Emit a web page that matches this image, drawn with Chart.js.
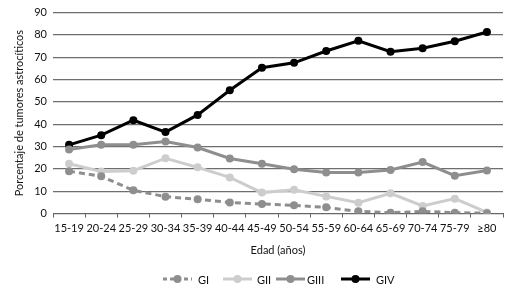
<!DOCTYPE html>
<html>
<head>
<meta charset="utf-8">
<script src="https://cdn.jsdelivr.net/npm/chart.js@4"></script>
<style>
  html, body { margin: 0; padding: 0; background: #fff; }
  #wrap { width: 530px; height: 293px; position: relative; }
</style>
</head>
<body>
<div id="wrap"><canvas id="chart" width="530" height="293"></canvas></div>
<script>
// age groups
var ageLabels = ["15-19", "20-24", "25-29", "30-34", "35-39", "40-44", "45-49",
                 "50-54", "55-59", "60-64", "65-69", "70-74", "75-79", "\u226580"];

// percentages
var gI   = [19, 16.7, 10.4, 7.6, 6.4, 5, 4.3, 3.7, 2.8, 1, 0.4, 1, 0.4, 0.2];
var gII  = [22.3, 18.9, 19.2, 24.8, 20.7, 16.2, 9.4, 10.7, 7.7, 4.9, 9.1, 3.4, 6.7, 0.5];
var gIII = [28.7, 30.8, 30.8, 32.3, 29.6, 24.7, 22.3, 19.9, 18.4, 18.4, 19.5, 23.1, 17, 19.3];
var gIV  = [30.8, 35.1, 41.8, 36.5, 44.2, 55.2, 65.3, 67.5, 72.8, 77.4, 72.5, 74, 77.2, 81.3];

var yTicks = [0, 10, 20, 30, 40, 50, 60, 70, 80, 90];

var FONT = "Lato, 'DejaVu Sans', sans-serif";

function series(label, data, color, dash) {
  return {
    label: label,
    data: data,
    borderColor: color,
    backgroundColor: color,
    borderWidth: 3,
    borderDash: dash || [],
    pointRadius: 4,
    pointBorderWidth: 0,
    pointBackgroundColor: color,
    tension: 0,
    fill: false
  };
}

// legend drawn below the axis title: line + dot + label
var lineLegend = {
  id: "lineLegend",
  afterDraw: function(chart) {
    var ctx = chart.ctx;
    var y = 279;
    var items = [
      {x: 163, tx: 198},
      {x: 223, tx: 257},
      {x: 276, tx: 307},
      {x: 341, tx: 376}
    ];
    ctx.save();
    chart.data.datasets.forEach(function(ds, i) {
      var it = items[i];
      var len = 29;
      ctx.strokeStyle = ds.borderColor;
      ctx.lineWidth = 3;
      ctx.setLineDash(ds.borderDash.length ? [4, 3] : []);
      ctx.beginPath();
      ctx.moveTo(it.x, y);
      ctx.lineTo(it.x + len, y);
      ctx.stroke();
      ctx.setLineDash([]);
      ctx.fillStyle = ds.borderColor;
      ctx.beginPath();
      ctx.arc(it.x + len / 2, y, 4, 0, Math.PI * 2);
      ctx.fill();
      ctx.fillStyle = "#111";
      ctx.font = "11px " + FONT;
      ctx.textBaseline = "middle";
      ctx.fillText(ds.label, it.tx, y + 1);
    });
    ctx.restore();
  }
};

var ctx = document.getElementById("chart").getContext("2d");
var chart = new Chart(ctx, {
  type: "line",
  data: {
    labels: ageLabels,
    datasets: [
      series("GI", gI, "#8e8e8e", [6, 4]),
      series("GII", gII, "#cdcdcd"),
      series("GIII", gIII, "#8e8e8e"),
      series("GIV", gIV, "#000000")
    ]
  },
  options: {
    responsive: false,
    animation: false,
    devicePixelRatio: 1,
    layout: { padding: { left: 0, right: 27, top: 1, bottom: 36 } },
    plugins: {
      legend: { display: false },
      tooltip: { enabled: false }
    },
    scales: {
      x: {
        offset: true,
        grid: {
          offset: true,
          drawOnChartArea: false,
          drawTicks: true,
          tickLength: 4,
          color: "#666"
        },
        border: { display: true, color: "#666", width: 1 },
        ticks: {
          color: "#111",
          font: { family: FONT, size: 11 },
          padding: 4,
          maxRotation: 0,
          autoSkip: false
        },
        title: {
          display: true,
          text: "Edad (a\u00f1os)",
          color: "#111",
          font: { family: FONT, size: 11 },
          padding: { top: 5, bottom: 0 }
        }
      },
      y: {
        min: 0,
        max: 90,
        afterBuildTicks: function(scale) {
          scale.ticks = yTicks.map(function(v) { return {value: v}; });
        },
        afterFit: function(scale) { scale.width = 53; },
        grid: {
          color: "#6e6e6e",
          lineWidth: 1.2,
          drawTicks: false
        },
        border: { display: false },
        ticks: {
          color: "#111",
          font: { family: FONT, size: 11 },
          padding: 6
        },
        title: {
          display: true,
          text: "Porcentaje de tumores astroc\u00edticos",
          color: "#111",
          font: { family: FONT, size: 11 },
          padding: { top: 13, bottom: 4 }
        }
      }
    }
  },
  plugins: [lineLegend]
});
</script>
</body>
</html>
